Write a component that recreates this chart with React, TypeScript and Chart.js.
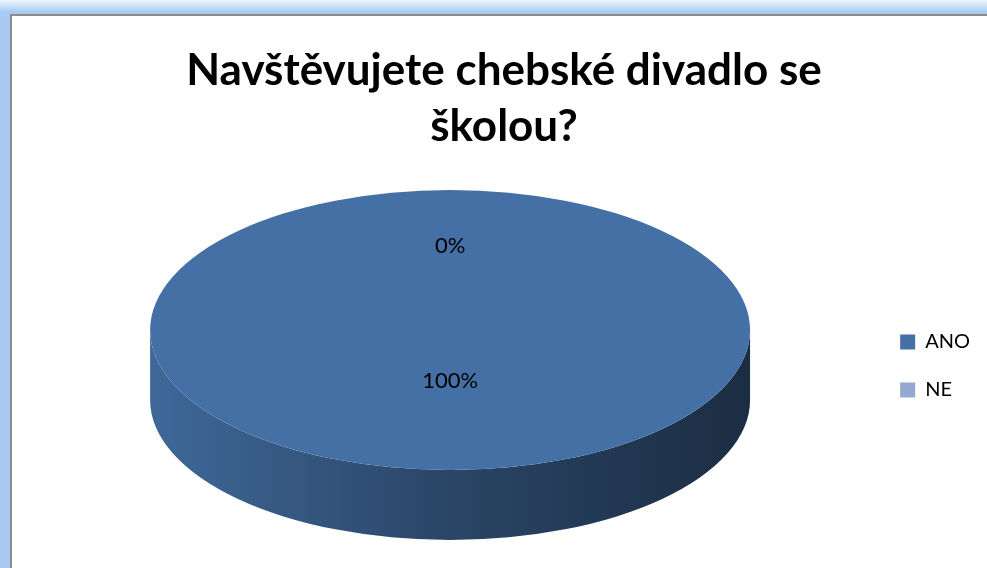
import React, { useEffect, useRef } from 'react';
import { Chart, registerables } from 'chart.js';

Chart.register(...registerables);

const TITLE_LINES = ['Navštěvujete chebské divadlo se', 'školou?'];
const CATEGORIES = ['ANO', 'NE'];
const VALUES = [100, 0];
const COLORS = ['#4470A5', '#93A9CF'];

const FONT = 'Lato, "Open Sans", sans-serif';
const X_STRETCH = 300 / 140;
const DEPTH = 70;
const LABEL_RADIUS = [0.36, 0.6];

function shade(hex: string, f: number): string {
  const n = parseInt(hex.slice(1), 16);
  const r = Math.round(((n >> 16) & 255) * f);
  const g = Math.round(((n >> 8) & 255) * f);
  const b = Math.round((n & 255) * f);
  return `rgb(${r},${g},${b})`;
}

const pie3d = {
  id: 'pie3d',
  beforeDatasetsDraw(chart: any) {
    const meta = chart.getDatasetMeta(0);
    const ctx = chart.ctx as CanvasRenderingContext2D;
    const first = meta.data[0];
    if (!first) return;
    const { x: cx, y: cy, outerRadius: r } = first.getProps(['x', 'y', 'outerRadius'], true);
    const rx = r * X_STRETCH;
    const ry = r;
    ctx.save();
    meta.data.forEach((arc: any, i: number) => {
      const { startAngle, endAngle } = arc.getProps(['startAngle', 'endAngle'], true);
      const color = COLORS[i % COLORS.length];
      for (let k = -1; k <= 1; k++) {
        const lo = Math.max(startAngle, 2 * Math.PI * k);
        const hi = Math.min(endAngle, Math.PI + 2 * Math.PI * k);
        if (hi - lo <= 1e-6) continue;
        ctx.beginPath();
        ctx.ellipse(cx, cy, rx, ry, 0, lo, hi);
        ctx.ellipse(cx, cy + DEPTH, rx, ry, 0, hi, lo, true);
        ctx.closePath();
        const grad = ctx.createLinearGradient(cx - rx, 0, cx + rx, 0);
        grad.addColorStop(0, shade(color, 0.93));
        grad.addColorStop(0.5, shade(color, 0.62));
        grad.addColorStop(1, shade(color, 0.4));
        ctx.fillStyle = grad;
        ctx.fill();
      }
    });
    ctx.restore();
    ctx.save();
    ctx.translate(cx, 0);
    ctx.scale(X_STRETCH, 1);
    ctx.translate(-cx, 0);
  },
  afterDatasetsDraw(chart: any) {
    const ctx = chart.ctx as CanvasRenderingContext2D;
    const meta = chart.getDatasetMeta(0);
    if (!meta.data[0]) return;
    ctx.restore();
    const total = VALUES.reduce((a, b) => a + b, 0);
    ctx.save();
    ctx.fillStyle = '#000';
    ctx.font = `22px ${FONT}`;
    ctx.textAlign = 'center';
    ctx.textBaseline = 'middle';
    meta.data.forEach((arc: any, i: number) => {
      const { x, y, outerRadius, startAngle, endAngle } = arc.getProps(
        ['x', 'y', 'outerRadius', 'startAngle', 'endAngle'],
        true
      );
      const mid = (startAngle + endAngle) / 2;
      const f = LABEL_RADIUS[i];
      const px = x + Math.cos(mid) * outerRadius * f * X_STRETCH;
      const py = y + Math.sin(mid) * outerRadius * f;
      const pct = Math.round((VALUES[i] / total) * 100);
      ctx.fillText(`${pct}%`, px, py);
    });
    ctx.restore();
  },
};

export default function App() {
  const ref = useRef<HTMLCanvasElement | null>(null);
  useEffect(() => {
    if (!ref.current) return;
    const chart = new Chart(ref.current, {
      type: 'pie',
      data: {
        labels: CATEGORIES,
        datasets: [
          {
            data: VALUES,
            backgroundColor: COLORS,
            borderWidth: 0,
            hoverOffset: 0,
          },
        ],
      },
      options: {
        animation: false,
        responsive: false,
        events: [],
        layout: { padding: { left: 28, right: 7, top: 0, bottom: 98 } },
        plugins: {
          tooltip: { enabled: false },
          title: {
            display: true,
            text: TITLE_LINES,
            color: '#000',
            font: { family: FONT, size: 44, weight: 'bold', lineHeight: 1.273 },
            padding: { top: 43, bottom: 35 },
          },
          legend: {
            position: 'right',
            align: 'center',
            title: {
              display: true,
              text: '',
              font: { size: 12, lineHeight: 1.2 },
              padding: { top: 0, bottom: 247.6 },
            },
            labels: {
              boxWidth: 15,
              boxHeight: 15,
              padding: 28,
              color: '#000',
              font: { family: FONT, size: 20 },
            },
          },
        },
      },
      plugins: [pie3d],
    });
    return () => chart.destroy();
  }, []);

  return (
    <div
      style={{
        position: 'fixed',
        left: 0,
        top: 0,
        width: 987,
        height: 568,
        overflow: 'hidden',
        background: 'linear-gradient(to bottom, #eef5fd 0px, #a9cbf3 12px)',
      }}
    >
      <div
        style={{
          position: 'absolute',
          left: 10,
          top: 14,
          right: 0,
          bottom: 0,
          background: '#fff',
          borderLeft: '2px solid #8c8c8c',
          borderTop: '2px solid #8c8c8c',
        }}
      />
      <canvas
        ref={ref}
        width={987}
        height={568}
        style={{ position: 'absolute', left: 0, top: 0, width: 987, height: 568 }}
      />
    </div>
  );
}
